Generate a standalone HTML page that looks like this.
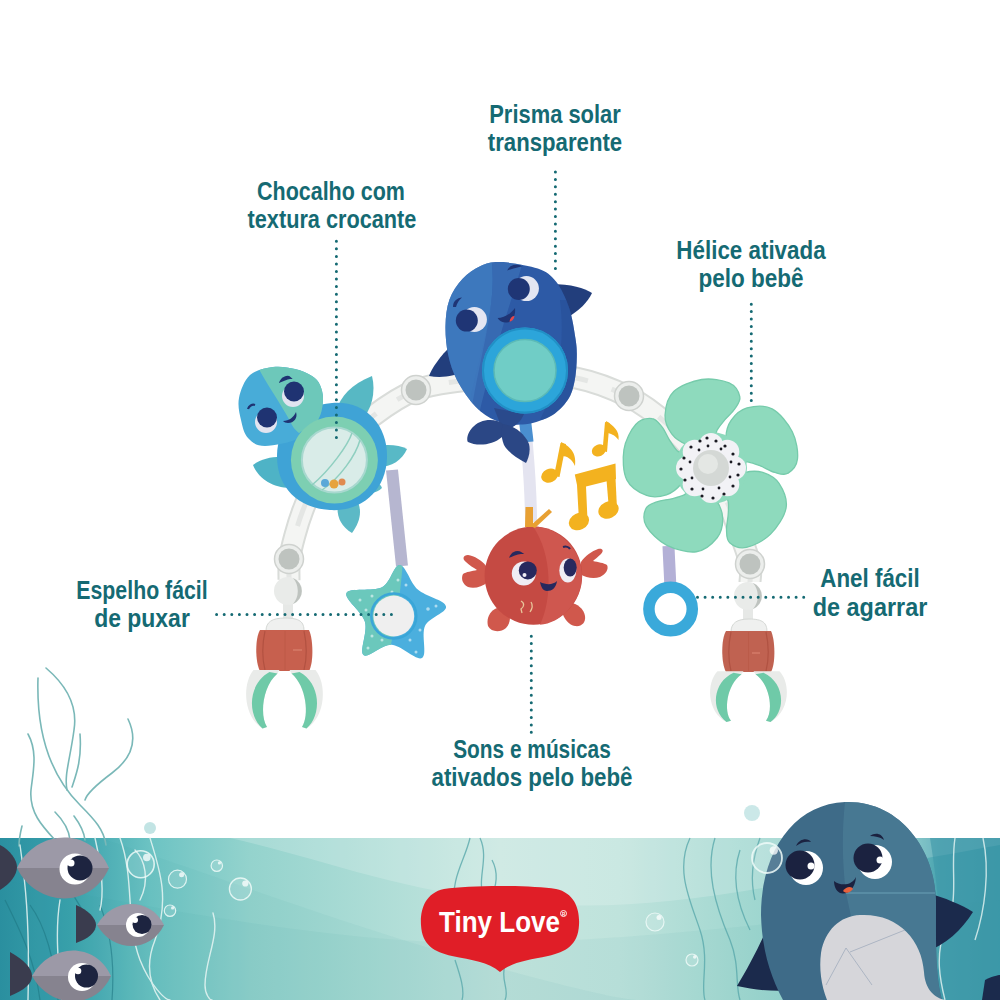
<!DOCTYPE html>
<html><head><meta charset="utf-8">
<style>
html,body{margin:0;padding:0;background:#fff;}
body{width:1000px;height:1000px;position:relative;overflow:hidden;font-family:"Liberation Sans",sans-serif;}
svg.bg{position:absolute;left:0;top:0;width:1000px;height:1000px;}
.ln{position:absolute;width:300px;text-align:center;white-space:nowrap;color:#156a73;font:bold 25px/28px "Liberation Sans",sans-serif;transform-origin:50% 50%;}
</style></head><body>
<svg class="bg" viewBox="0 0 1000 1000">
<defs>
<linearGradient id="band" x1="0" y1="0" x2="1" y2="0">
<stop offset="0" stop-color="#2a8fa1"/>
<stop offset="0.07" stop-color="#3aa2ae"/>
<stop offset="0.15" stop-color="#6cc3c3"/>
<stop offset="0.25" stop-color="#94d3cd"/>
<stop offset="0.5" stop-color="#c6e6df"/>
<stop offset="0.62" stop-color="#bfe3dc"/>
<stop offset="0.74" stop-color="#a3d8d1"/>
<stop offset="0.9" stop-color="#7fc9c6"/>
<stop offset="0.94" stop-color="#4aa3b0"/>
<stop offset="1" stop-color="#3a98a8"/>
</linearGradient>
</defs>
<rect x="0" y="838" width="1000" height="162" fill="url(#band)"/>
<!-- waves -->
<path d="M0 838H1000V1000H0Z" fill="none"/>
<path d="M230 838 C330 860 420 900 560 905 C680 910 800 880 1000 845 V838Z" fill="#ffffff" opacity="0.18"/>
<path d="M0 880 C120 900 260 930 400 940 C560 950 700 930 1000 900 V1000H0Z" fill="#2f9aa0" opacity="0.06"/>
<path d="M100 838 C200 870 330 920 470 960 C560 985 620 1000 640 1000 H0 V838Z" fill="#2d95a0" opacity="0.06"/>
<!-- seaweed above band (left) -->
<g fill="none" stroke="#7ab8b8" stroke-width="1.6" stroke-linecap="round">
<path d="M38 678 C36 740 55 780 80 805 C95 820 104 830 106 845"/>
<path d="M46 668 C66 685 78 705 74 730 C70 760 64 775 67 790"/>
<path d="M80 734 C82 760 76 775 72 787"/>
<path d="M128 719 C138 740 132 758 112 773 C96 785 87 793 85 800"/>
<path d="M28 734 C38 752 33 772 31 790 C29 812 42 826 55 840"/>
<path d="M55 812 C63 820 69 830 70 840"/>
<path d="M74 816 C80 824 84 832 85 840"/>
<path d="M22 826 C20 834 19 840 19 846"/>
</g>
<circle cx="150" cy="828" r="6" fill="#a8d8d8" opacity="0.7"/>
<circle cx="752" cy="813" r="8" fill="#a8d8d8" opacity="0.6"/>
<g fill="none" stroke="#1f7884" stroke-width="1.2" opacity="0.6">
<path d="M5 900 C20 930 35 960 40 1000"/>
<path d="M30 905 C45 925 55 960 58 1000"/>
<path d="M50 840 C60 880 80 905 95 930"/>
<path d="M100 905 C110 930 115 960 112 1000"/>
</g>
<!-- seaweed inside band white (left) -->
<g fill="none" stroke="#e8f6f4" stroke-width="1.4" stroke-linecap="round" opacity="0.85">
<path d="M20 845 C25 880 30 920 28 1000"/>
<path d="M60 900 C55 930 58 965 62 1000"/>
<path d="M120 838 C135 880 125 920 140 960 C150 985 165 1000 170 1000"/>
<path d="M150 838 C160 870 170 900 155 940 C145 965 150 985 160 1000"/>
<path d="M95 838 C100 860 105 890 100 910"/>
<path d="M213 913 C220 935 205 960 205 985 C205 995 210 1000 212 1000"/>
<path d="M135 850 C145 860 150 880 140 900"/>
</g>
<!-- bubbles -->
<g>
<circle cx="140.7" cy="864.2" r="13.5" fill="#ffffff" fill-opacity="0.13" stroke="#eefaf8" stroke-opacity="0.85" stroke-width="1.6"/>
<circle cx="146.8" cy="857.5" r="3.8" fill="#ffffff" fill-opacity="0.75"/>
<circle cx="177.5" cy="879.2" r="9" fill="#ffffff" fill-opacity="0.13" stroke="#eefaf8" stroke-opacity="0.85" stroke-width="1.2"/>
<circle cx="181.6" cy="874.7" r="2.5" fill="#ffffff" fill-opacity="0.75"/>
<circle cx="216.8" cy="865.7" r="5.7" fill="#ffffff" fill-opacity="0.13" stroke="#eefaf8" stroke-opacity="0.85" stroke-width="1.2"/>
<circle cx="219.4" cy="862.9" r="1.6" fill="#ffffff" fill-opacity="0.75"/>
<circle cx="240.4" cy="889" r="11" fill="#ffffff" fill-opacity="0.13" stroke="#eefaf8" stroke-opacity="0.85" stroke-width="1.3"/>
<circle cx="245.3" cy="883.5" r="3.1" fill="#ffffff" fill-opacity="0.75"/>
<circle cx="170" cy="910.7" r="5.7" fill="#ffffff" fill-opacity="0.13" stroke="#eefaf8" stroke-opacity="0.85" stroke-width="1.2"/>
<circle cx="172.6" cy="907.9" r="1.6" fill="#ffffff" fill-opacity="0.75"/>
<circle cx="655" cy="922" r="9" fill="#ffffff" fill-opacity="0.13" stroke="#eefaf8" stroke-opacity="0.85" stroke-width="1.2"/>
<circle cx="659.0" cy="917.5" r="2.5" fill="#ffffff" fill-opacity="0.75"/>
<circle cx="692" cy="960" r="6" fill="#ffffff" fill-opacity="0.13" stroke="#eefaf8" stroke-opacity="0.85" stroke-width="1.2"/>
<circle cx="694.7" cy="957.0" r="1.7" fill="#ffffff" fill-opacity="0.75"/>
</g>
<!-- teal seaweed lines near logo -->
<g fill="none" stroke="#5aa9ac" stroke-width="1.3" opacity="0.8">
<path d="M470 838 C465 860 450 880 455 905"/>
<path d="M480 838 C490 860 475 880 485 900"/>
<path d="M492 860 C500 875 495 890 490 900"/>
<path d="M455 960 C460 975 465 990 462 1000"/>
<path d="M505 965 C500 980 510 990 505 1000"/>
<path d="M690 838 C675 870 690 900 700 930 C710 960 700 985 705 1000"/>
<path d="M715 838 C705 870 715 905 730 940 C740 965 735 985 740 1000"/>
<path d="M740 850 C730 880 740 910 750 930"/>
<path d="M760 838 C752 860 750 880 755 900"/>
</g>
<!-- right dark teal area -->
<path d="M930 838 H1000 V1000 H930 C945 960 940 900 930 838Z" fill="#3d98a8" opacity="0.6"/>
<g fill="none" stroke="#e8f6f4" stroke-width="1.4" opacity="0.8">
<path d="M955 838 C950 870 960 900 945 930 C935 955 940 980 945 1000"/>
<path d="M983 838 C990 870 985 910 975 940"/>
</g>
<!-- fish -->
<g>
<path d="M0 845 C10 850 17 860 17 867 C17 875 10 884 0 890Z" fill="#3a3c4e"/>
<path d="M17 868 C35 830 90 825 109 868Z" fill="#9c99a7"/>
<path d="M17 868 C35 906 90 911 109 868Z" fill="#86838f"/>
<circle cx="75" cy="869" r="15.5" fill="#ffffff"/>
<circle cx="80" cy="868" r="12.5" fill="#1d2440"/>
<circle cx="71" cy="863" r="3.5" fill="#ffffff"/>

<path d="M76 905 C88 910 96 918 96 925 C96 932 88 939 76 943Z" fill="#3a3c4e"/>
<path d="M97 925 C112 898 150 896 164 925Z" fill="#9c99a7"/>
<path d="M97 925 C112 952 150 954 164 925Z" fill="#86838f"/>
<circle cx="138" cy="925" r="12" fill="#ffffff"/>
<circle cx="142" cy="924.5" r="9.5" fill="#1d2440"/>
<circle cx="135" cy="920" r="3" fill="#ffffff"/>

<path d="M10 952 C24 960 32 968 32 976 C32 984 24 990 10 996Z" fill="#3a3c4e"/>
<path d="M32 976 C50 943 95 941 111 976Z" fill="#9c99a7"/>
<path d="M32 976 C50 1009 95 1011 111 976Z" fill="#86838f"/>
<circle cx="82" cy="977" r="14" fill="#ffffff"/>
<circle cx="86.5" cy="976" r="11.5" fill="#1d2440"/>
<circle cx="78" cy="971" r="3.3" fill="#ffffff"/>
</g>
<!-- whale -->
<g>
<path d="M770 922 C760 945 748 968 737 986 C755 990 775 992 795 990Z" fill="#1b2a4c"/>
<path d="M928 893 C945 898 960 904 973 912 C962 930 945 945 926 952Z" fill="#1b2a4c"/>
<path d="M845 802 C900 800 935 850 936 900 C936 940 935 975 942 1000 H783 C770 975 762 950 761 915 C761 850 795 804 845 802Z" fill="#3e6b88"/>
<path d="M845 802 C900 800 935 850 936 900 C936 940 935 975 942 1000 H870 C860 960 852 920 846 893 C842 860 842 830 845 802Z" fill="#4a7c95" opacity="0.8"/>
<path d="M846 893 H935" stroke="#6aa0b5" stroke-width="1.2"/>
<path d="M860 915 C898 913 922 940 924 972 C925 990 935 998 945 1000 H827 C821 985 819 968 821 953 C825 930 840 916 860 915Z" fill="#d6d6da"/>
<path d="M826 985 L846 948 L872 985 M850 952 L905 930" stroke="#8a9ab0" stroke-width="0.8" fill="none" opacity="0.7"/>
<circle cx="806" cy="868" r="17" fill="#ffffff"/>
<circle cx="800" cy="865" r="14.5" fill="#1b2240"/>
<circle cx="811" cy="866" r="3.5" fill="#ffffff"/>
<circle cx="875" cy="862" r="17" fill="#ffffff"/>
<circle cx="868" cy="858" r="14.5" fill="#1b2240"/>
<circle cx="880" cy="860" r="3.5" fill="#ffffff"/>
<path d="M796 846 C800 838 808 838 811 842 C806 841 801 842 796 846Z" fill="#1b2240"/>
<path d="M870 836 C875 832 882 833 884 840 C880 837 875 836 870 836Z" fill="#1b2240"/>
<path d="M834 881 C840 886 852 886 856 877 C855 890 847 895 840 893 C836 891 834 886 834 881Z" fill="#1b2240"/>
<path d="M843 891 C846 886 852 886 853 889 C850 893 846 894 843 891Z" fill="#e8613c"/>
<path d="M985 980 C995 975 1000 975 1000 975 V1000 H982Z" fill="#1b2a4c"/>
</g>
<circle cx="767" cy="858" r="15" fill="#ffffff" fill-opacity="0.13" stroke="#eefaf8" stroke-opacity="0.85" stroke-width="1.8"/>
<circle cx="773.8" cy="850.5" r="4.2" fill="#ffffff" fill-opacity="0.75"/>
<!-- logo -->
<g>
<path d="M444 889 C470 885 530 885 556 889 C575 893 580 910 579 925 C578 945 566 952 548 956 C528 960 512 962 500 972 C488 962 472 960 452 956 C434 952 422 945 421 925 C420 910 425 893 444 889Z" fill="#e01e27"/>
<text x="439" y="932" font-family="Liberation Sans" font-weight="bold" font-size="30" fill="#ffffff" textLength="121" lengthAdjust="spacingAndGlyphs">Tiny Love</text>
<circle cx="563.5" cy="913.5" r="3" fill="none" stroke="#fff" stroke-width="0.9"/>
<text x="562" y="915.5" font-family="Liberation Sans" font-weight="bold" font-size="4.5" fill="#fff">R</text>
</g>
<!-- ARCH -->
<g fill="none" stroke-linecap="butt">
<path d="M289.0 580.0 C289.1 576.5 288.5 566.5 289.5 559.0 C290.5 551.5 292.8 543.2 295.0 535.0 C297.2 526.8 299.5 519.0 303.0 510.0 C306.5 501.0 310.3 491.0 316.0 481.0 C321.7 471.0 327.5 460.8 337.0 450.0 C346.5 439.2 359.8 426.0 373.0 416.0 C386.2 406.0 401.5 395.8 416.0 390.0 C430.5 384.2 442.7 383.5 460.0 381.0 C477.3 378.5 500.7 375.5 520.0 375.0 C539.3 374.5 557.8 374.3 576.0 378.0 C594.2 381.7 613.8 389.3 629.0 397.0 C644.2 404.7 655.2 413.5 667.0 424.0 C678.8 434.5 690.3 447.7 700.0 460.0 C709.7 472.3 718.3 485.7 725.0 498.0 C731.7 510.3 735.8 523.0 740.0 534.0 C744.2 545.0 748.3 556.0 750.0 564.0 C751.7 572.0 750.0 579.0 750.0 582.0" stroke="#d9dcd9" stroke-width="23"/>
<path d="M289.0 580.0 C289.1 576.5 288.5 566.5 289.5 559.0 C290.5 551.5 292.8 543.2 295.0 535.0 C297.2 526.8 299.5 519.0 303.0 510.0 C306.5 501.0 310.3 491.0 316.0 481.0 C321.7 471.0 327.5 460.8 337.0 450.0 C346.5 439.2 359.8 426.0 373.0 416.0 C386.2 406.0 401.5 395.8 416.0 390.0 C430.5 384.2 442.7 383.5 460.0 381.0 C477.3 378.5 500.7 375.5 520.0 375.0 C539.3 374.5 557.8 374.3 576.0 378.0 C594.2 381.7 613.8 389.3 629.0 397.0 C644.2 404.7 655.2 413.5 667.0 424.0 C678.8 434.5 690.3 447.7 700.0 460.0 C709.7 472.3 718.3 485.7 725.0 498.0 C731.7 510.3 735.8 523.0 740.0 534.0 C744.2 545.0 748.3 556.0 750.0 564.0 C751.7 572.0 750.0 579.0 750.0 582.0" stroke="#f4f5f3" stroke-width="19"/>
<path d="M289.0 580.0 C289.1 576.5 288.5 566.5 289.5 559.0 C290.5 551.5 292.8 543.2 295.0 535.0 C297.2 526.8 299.5 519.0 303.0 510.0 C306.5 501.0 310.3 491.0 316.0 481.0 C321.7 471.0 327.5 460.8 337.0 450.0 C346.5 439.2 359.8 426.0 373.0 416.0 C386.2 406.0 401.5 395.8 416.0 390.0 C430.5 384.2 442.7 383.5 460.0 381.0 C477.3 378.5 500.7 375.5 520.0 375.0 C539.3 374.5 557.8 374.3 576.0 378.0 C594.2 381.7 613.8 389.3 629.0 397.0 C644.2 404.7 655.2 413.5 667.0 424.0 C678.8 434.5 690.3 447.7 700.0 460.0 C709.7 472.3 718.3 485.7 725.0 498.0 C731.7 510.3 735.8 523.0 740.0 534.0 C744.2 545.0 748.3 556.0 750.0 564.0 C751.7 572.0 750.0 579.0 750.0 582.0" stroke="#e4e6e4" stroke-width="5" stroke-dasharray="30 25"/>
</g>
<!-- knobs -->
<g>
<circle cx="289" cy="559" r="14.5" fill="#eceeec" stroke="#cfd2cf" stroke-width="1.5"/>
<circle cx="289" cy="559" r="10.5" fill="#bec3bf"/>
<circle cx="416" cy="390" r="14.5" fill="#eceeec" stroke="#cfd2cf" stroke-width="1.5"/>
<circle cx="416" cy="390" r="10.5" fill="#bec3bf"/>
<circle cx="629" cy="396" r="14.5" fill="#eceeec" stroke="#cfd2cf" stroke-width="1.5"/>
<circle cx="629" cy="396" r="10.5" fill="#bec3bf"/>
<circle cx="750" cy="564" r="14.5" fill="#eceeec" stroke="#cfd2cf" stroke-width="1.5"/>
<circle cx="750" cy="564" r="10.5" fill="#bec3bf"/>
</g>
<!-- LEFT CLIP -->
<g>
<rect x="283" y="598" width="10" height="22" fill="#e6e8e6"/>
<circle cx="288" cy="591" r="14" fill="#e9ebe9"/>
<path d="M293 578 A14 14 0 0 1 293 604 A20 20 0 0 0 293 578Z" fill="#bec3bf"/>
<path d="M266 631 C266 622 272 618 285 618 C300 618 304 622 304 631Z" fill="#eff0ef" stroke="#d5d8d5" stroke-width="1"/>
<path d="M260 630 H309 C313 638 314 662 309 671 H260 C255 662 255 638 260 630Z" fill="#c7604e"/>
<path d="M265 631 C262 645 262 658 265 670 M304 631 C307 645 307 658 304 670" stroke="#a94c3c" stroke-width="1.2" fill="none" opacity="0.7"/>
<path d="M285 631 V670" stroke="#b65543" stroke-width="0.8" opacity="0.6"/>
<path d="M293 650 H302" stroke="#e08a78" stroke-width="1.2" opacity="0.8"/>
<g transform="translate(284.5 671)">
<path d="M-31 -1 C-42 12 -42 45 -22 57.5 L-17.5 56 C-25 45 -22 15 -7 2.5 L-5 -1Z" fill="#e9ebe9"/>
<path d="M-15 1 C-36 12 -38 44 -22 57.5 L-17.5 56 C-25 45 -22 15 -7 2.5Z" fill="#6fcaa8"/>
<g transform="scale(-1 1)">
<path d="M-31 -1 C-42 12 -42 45 -22 57.5 L-17.5 56 C-25 45 -22 15 -7 2.5 L-5 -1Z" fill="#e9ebe9"/>
<path d="M-15 1 C-36 12 -38 44 -22 57.5 L-17.5 56 C-25 45 -22 15 -7 2.5Z" fill="#6fcaa8"/>
</g></g>
</g>
<!-- RIGHT CLIP -->
<g>
<rect x="743" y="603" width="10" height="18" fill="#e6e8e6"/>
<circle cx="748" cy="596" r="14" fill="#e9ebe9"/>
<path d="M753 583 A14 14 0 0 1 753 609 A20 20 0 0 0 753 583Z" fill="#bec3bf"/>
<path d="M731 632 C731 623 737 619 749 619 C763 619 767 623 767 632Z" fill="#eff0ef" stroke="#d5d8d5" stroke-width="1"/>
<path d="M726 631 H771 C775 639 776 663 771 672 H726 C721 663 721 639 726 631Z" fill="#c06251"/>
<path d="M731 632 C728 646 728 659 731 671 M766 632 C769 646 769 659 766 671" stroke="#a94c3c" stroke-width="1.2" fill="none" opacity="0.7"/>
<path d="M748.5 632 V671" stroke="#b65543" stroke-width="0.8" opacity="0.6"/>
<path d="M752 653 H760" stroke="#e08a78" stroke-width="1.2" opacity="0.8"/>
<g transform="translate(748.5 672) scale(1 0.87)">
<path d="M-31 -1 C-42 12 -42 45 -22 57.5 L-17.5 56 C-25 45 -22 15 -7 2.5 L-5 -1Z" fill="#e9ebe9"/>
<path d="M-15 1 C-36 12 -38 44 -22 57.5 L-17.5 56 C-25 45 -22 15 -7 2.5Z" fill="#6fcaa8"/>
<g transform="scale(-1 1)">
<path d="M-31 -1 C-42 12 -42 45 -22 57.5 L-17.5 56 C-25 45 -22 15 -7 2.5 L-5 -1Z" fill="#e9ebe9"/>
<path d="M-15 1 C-36 12 -38 44 -22 57.5 L-17.5 56 C-25 45 -22 15 -7 2.5Z" fill="#6fcaa8"/>
</g></g>
</g>
<!-- STRAPS -->
<path d="M392 470 C395 500 398 530 402 566" stroke="#b6b6d0" stroke-width="12" fill="none"/>
<path d="M525 420 C527 450 531 480 531 522" stroke="#e4e4f0" stroke-width="12" fill="none"/>
<path d="M525 420 C526 430 527 436 527.5 442" stroke="#4a8fd0" stroke-width="12" fill="none"/>
<path d="M668.5 546 C669 560 670 575 670.5 590" stroke="#b3b0d6" stroke-width="12" fill="none"/>
<!-- BLUE RING -->
<circle cx="670.6" cy="609" r="21.7" fill="none" stroke="#3aa9da" stroke-width="11.5"/>
<!-- TURTLE -->
<g>
<path d="M336 412 C340 396 352 384 372 376 C376 392 372 410 360 422Z" fill="#57b8c4"/>
<path d="M376 446 C388 444 400 445 407 449 C402 460 392 467 378 467Z" fill="#58b9c6"/>
<path d="M292 458 C278 455 262 458 253 465 C258 478 272 488 290 488Z" fill="#4eb3c6"/>
<path d="M338 503 C336 515 340 526 352 533 C360 522 362 512 358 502Z" fill="#5cb9c6"/>
<path d="M366 482 C372 480 380 482 382 488 C378 492 372 494 366 492Z" fill="#5cb9c6"/>
<path d="M332 403 C365 400 388 425 387 458 C386 490 362 512 330 510 C298 508 277 488 277 456 C277 424 300 406 332 403Z" fill="#3fa3d6"/>
<defs><clipPath id="th"><path d="M250.0 375.0 C255.7 369.8 265.5 368.0 273.0 367.0 C280.5 366.0 288.5 367.5 295.0 369.0 C301.5 370.5 307.8 373.3 312.0 376.0 C316.2 378.7 318.2 381.0 320.0 385.0 C321.8 389.0 323.3 394.2 323.0 400.0 C322.7 405.8 321.8 413.7 318.0 420.0 C314.2 426.3 308.8 433.7 300.0 438.0 C291.2 442.3 273.7 446.0 265.0 446.0 C256.3 446.0 252.0 442.3 248.0 438.0 C244.0 433.7 242.5 426.7 241.0 420.0 C239.5 413.3 237.5 405.5 239.0 398.0 C240.5 390.5 244.3 380.2 250.0 375.0Z"/></clipPath></defs>
<path d="M250.0 375.0 C255.7 369.8 265.5 368.0 273.0 367.0 C280.5 366.0 288.5 367.5 295.0 369.0 C301.5 370.5 307.8 373.3 312.0 376.0 C316.2 378.7 318.2 381.0 320.0 385.0 C321.8 389.0 323.3 394.2 323.0 400.0 C322.7 405.8 321.8 413.7 318.0 420.0 C314.2 426.3 308.8 433.7 300.0 438.0 C291.2 442.3 273.7 446.0 265.0 446.0 C256.3 446.0 252.0 442.3 248.0 438.0 C244.0 433.7 242.5 426.7 241.0 420.0 C239.5 413.3 237.5 405.5 239.0 398.0 C240.5 390.5 244.3 380.2 250.0 375.0Z" fill="#48acd8"/>
<g clip-path="url(#th)">
<path d="M255 362 L330 362 L330 430 C320 440 300 440 292 425 C285 410 270 390 255 362Z" fill="#6dc8ba"/>
<path d="M300 432 L330 420 L330 450 L290 450Z" fill="#4aaed6"/>
</g>
<circle cx="293" cy="396" r="11" fill="#e2e4f0"/>
<circle cx="294" cy="391.5" r="10" fill="#1f3372"/>
<circle cx="266" cy="422" r="11" fill="#e2e4f0"/>
<circle cx="267" cy="417.5" r="10" fill="#1f3372"/>
<path d="M281 381 C283 377 288 376 290 378 C287 378 284 380 281 381Z" stroke="#1f3372" stroke-width="2.2" fill="none"/>
<path d="M248 409 C249 406 252 404 255 405" stroke="#1f3372" stroke-width="2.2" fill="none"/>
<path d="M283 421 C289 421 294 417 296 412 C298 418 294 423 288 423 C286 423 284 422 283 421Z" fill="#1f3372"/>
<circle cx="334.4" cy="460" r="43.5" fill="#7dcfb2"/>
<circle cx="334.4" cy="460" r="32.5" fill="#d9ece8"/>
<circle cx="334.4" cy="460" r="32.5" fill="none" stroke="#a8d8cf" stroke-width="2"/>
<path d="M312 485 C330 470 348 445 352 433 M322 490 C340 478 356 455 360 440" stroke="#8fcfc0" stroke-width="1.5" fill="none"/>
<circle cx="325" cy="483" r="4" fill="#5aa8d8"/>
<circle cx="334" cy="484" r="4.5" fill="#e6a33e"/>
<circle cx="342" cy="482" r="3.5" fill="#e08a50"/>
</g>
<!-- WHALE TOY -->
<g>
<path d="M452 345 C440 356 432 368 429 376 C440 378 455 377 466 370Z" fill="#223e7c"/>
<path d="M550 284 C572 284 584 288 592 293 C588 302 580 310 564 320Z" fill="#223e7c"/>
<defs><clipPath id="wb"><path d="M501.4 262.1 C510.9 262.5 528.7 265.4 537.8 268.6 C546.9 271.9 550.8 275.1 556.0 281.6 C561.2 288.1 565.8 298.1 569.0 307.6 C572.3 317.1 574.2 330.6 575.5 338.8 C576.8 347.0 576.9 350.1 576.8 357.0 C576.7 363.9 576.2 373.3 574.7 380.4 C573.2 387.6 571.9 393.8 567.7 399.9 C563.5 406.0 557.1 412.7 549.5 416.8 C541.9 420.9 531.1 424.0 522.2 424.6 C513.3 425.3 504.0 423.7 496.2 420.7 C488.4 417.7 481.9 413.1 475.4 406.4 C468.9 399.7 461.8 389.1 457.2 380.4 C452.7 371.7 450.1 363.5 448.1 354.4 C446.2 345.3 445.3 334.9 445.5 325.8 C445.7 316.7 446.6 307.6 449.4 299.8 C452.2 292.0 457.2 284.6 462.4 279.0 C467.6 273.4 474.1 268.8 480.6 266.0 C487.1 263.2 491.9 261.7 501.4 262.1Z"/></clipPath></defs>
<path d="M501.4 262.1 C510.9 262.5 528.7 265.4 537.8 268.6 C546.9 271.9 550.8 275.1 556.0 281.6 C561.2 288.1 565.8 298.1 569.0 307.6 C572.3 317.1 574.2 330.6 575.5 338.8 C576.8 347.0 576.9 350.1 576.8 357.0 C576.7 363.9 576.2 373.3 574.7 380.4 C573.2 387.6 571.9 393.8 567.7 399.9 C563.5 406.0 557.1 412.7 549.5 416.8 C541.9 420.9 531.1 424.0 522.2 424.6 C513.3 425.3 504.0 423.7 496.2 420.7 C488.4 417.7 481.9 413.1 475.4 406.4 C468.9 399.7 461.8 389.1 457.2 380.4 C452.7 371.7 450.1 363.5 448.1 354.4 C446.2 345.3 445.3 334.9 445.5 325.8 C445.7 316.7 446.6 307.6 449.4 299.8 C452.2 292.0 457.2 284.6 462.4 279.0 C467.6 273.4 474.1 268.8 480.6 266.0 C487.1 263.2 491.9 261.7 501.4 262.1Z" fill="#2d5aa6"/>
<g clip-path="url(#wb)">
<path d="M440 250 L490 250 C500 300 480 350 470 420 L440 420Z" fill="#4585c8" opacity="0.7"/>
<path d="M490 250 L525 255 C515 290 500 330 480 410 L468 410 C480 350 500 300 490 250Z" fill="#3d74bb" opacity="0.6"/>
<path d="M560 300 L590 300 L590 420 L540 420 C560 380 565 340 560 300Z" fill="#254c93" opacity="0.5"/>
</g>
<path d="M494 408 L524 414 C520 424 511 429 503 431Z" fill="#2a4a8c"/>
<path d="M503 424 C496 418 480 418 472 428 C466 435 467 441 468 442 C476 446 492 446 502 437Z" fill="#2b4785"/>
<path d="M503 424 C512 425 524 432 529 444 C531 452 528 459 526 463 C516 458 508 452 504 445 C501 438 501 430 503 424Z" fill="#2b4785"/>
<circle cx="474.4" cy="319.5" r="12.5" fill="#e4e6f2"/>
<circle cx="466.8" cy="320.6" r="11" fill="#1f3575"/>
<circle cx="526.4" cy="288.6" r="12.5" fill="#e4e6f2"/>
<circle cx="518.8" cy="289" r="11" fill="#1f3575"/>
<path d="M453 307 C453 301 457 298 462 297.5 C459 300 457 303 456 307Z" fill="#1f3575"/>
<path d="M509 269 C511 266 516 264.5 520 266 C516 267 512 268 509 269Z" fill="#1f3575" stroke="#1f3575" stroke-width="1.5"/>
<path d="M497.6 318 C503 318 510 315 515 308 C516 316 512 322 507 322.5 C503 323 499 321 497.6 318Z" fill="#1f3575"/>
<path d="M509.5 321.5 C510 318 512 316 514.5 316 C514 319 512 321.5 509.5 321.5Z" fill="#e8474a"/>
<circle cx="525" cy="370.5" r="43" fill="#2ca5da"/>
<circle cx="525" cy="370.5" r="42" fill="none" stroke="#2190c6" stroke-width="2"/>
<circle cx="525" cy="370.5" r="31" fill="#70cdc6"/>
<circle cx="525" cy="370.5" r="31" fill="none" stroke="#5cbab6" stroke-width="1.5"/>
</g>
<!-- FLOWER -->
<g transform="translate(711 468)">
<g fill="#8edabd" stroke="#76cbab" stroke-width="1.3">
<path d="M-5.0 -23.5 C-9.5 -23.6 -16.8 -23.6 -21.9 -26.0 C-26.9 -28.5 -32.4 -32.8 -35.5 -38.0 C-38.5 -43.2 -41.2 -50.4 -40.2 -57.3 C-39.1 -64.3 -35.8 -74.6 -29.1 -79.9 C-22.4 -85.2 -9.3 -88.5 0.0 -89.0 C9.3 -89.5 20.9 -86.2 26.9 -82.7 C32.9 -79.2 35.6 -72.4 36.1 -68.0 C36.7 -63.6 32.9 -60.1 30.0 -56.5 C27.1 -52.9 22.1 -49.7 18.7 -46.4 C15.4 -43.1 12.1 -40.2 9.8 -36.7 C7.6 -33.2 7.9 -27.6 5.4 -25.4 C2.9 -23.2 -0.4 -23.4 -5.0 -23.5Z" transform="rotate(-6)"/>
<path d="M-5.0 -23.5 C-9.5 -23.6 -16.8 -23.6 -21.9 -26.0 C-26.9 -28.5 -32.4 -32.8 -35.5 -38.0 C-38.5 -43.2 -41.2 -50.4 -40.2 -57.3 C-39.1 -64.3 -35.8 -74.6 -29.1 -79.9 C-22.4 -85.2 -9.3 -88.5 0.0 -89.0 C9.3 -89.5 20.9 -86.2 26.9 -82.7 C32.9 -79.2 35.6 -72.4 36.1 -68.0 C36.7 -63.6 32.9 -60.1 30.0 -56.5 C27.1 -52.9 22.1 -49.7 18.7 -46.4 C15.4 -43.1 12.1 -40.2 9.8 -36.7 C7.6 -33.2 7.9 -27.6 5.4 -25.4 C2.9 -23.2 -0.4 -23.4 -5.0 -23.5Z" transform="rotate(66)"/>
<path d="M-5.0 -23.5 C-9.5 -23.6 -16.8 -23.6 -21.9 -26.0 C-26.9 -28.5 -32.4 -32.8 -35.5 -38.0 C-38.5 -43.2 -41.2 -50.4 -40.2 -57.3 C-39.1 -64.3 -35.8 -74.6 -29.1 -79.9 C-22.4 -85.2 -9.3 -88.5 0.0 -89.0 C9.3 -89.5 20.9 -86.2 26.9 -82.7 C32.9 -79.2 35.6 -72.4 36.1 -68.0 C36.7 -63.6 32.9 -60.1 30.0 -56.5 C27.1 -52.9 22.1 -49.7 18.7 -46.4 C15.4 -43.1 12.1 -40.2 9.8 -36.7 C7.6 -33.2 7.9 -27.6 5.4 -25.4 C2.9 -23.2 -0.4 -23.4 -5.0 -23.5Z" transform="rotate(138)"/>
<path d="M-5.0 -23.5 C-9.5 -23.6 -16.8 -23.6 -21.9 -26.0 C-26.9 -28.5 -32.4 -32.8 -35.5 -38.0 C-38.5 -43.2 -41.2 -50.4 -40.2 -57.3 C-39.1 -64.3 -35.8 -74.6 -29.1 -79.9 C-22.4 -85.2 -9.3 -88.5 0.0 -89.0 C9.3 -89.5 20.9 -86.2 26.9 -82.7 C32.9 -79.2 35.6 -72.4 36.1 -68.0 C36.7 -63.6 32.9 -60.1 30.0 -56.5 C27.1 -52.9 22.1 -49.7 18.7 -46.4 C15.4 -43.1 12.1 -40.2 9.8 -36.7 C7.6 -33.2 7.9 -27.6 5.4 -25.4 C2.9 -23.2 -0.4 -23.4 -5.0 -23.5Z" transform="rotate(210)"/>
<path d="M-5.0 -23.5 C-9.5 -23.6 -16.8 -23.6 -21.9 -26.0 C-26.9 -28.5 -32.4 -32.8 -35.5 -38.0 C-38.5 -43.2 -41.2 -50.4 -40.2 -57.3 C-39.1 -64.3 -35.8 -74.6 -29.1 -79.9 C-22.4 -85.2 -9.3 -88.5 0.0 -89.0 C9.3 -89.5 20.9 -86.2 26.9 -82.7 C32.9 -79.2 35.6 -72.4 36.1 -68.0 C36.7 -63.6 32.9 -60.1 30.0 -56.5 C27.1 -52.9 22.1 -49.7 18.7 -46.4 C15.4 -43.1 12.1 -40.2 9.8 -36.7 C7.6 -33.2 7.9 -27.6 5.4 -25.4 C2.9 -23.2 -0.4 -23.4 -5.0 -23.5Z" transform="rotate(282)"/>
<circle r="36" stroke="none"/>
</g>
<g fill="#f2f2f6">
<circle cx="0" cy="-23" r="12"/><circle cx="16.3" cy="-16.3" r="12"/><circle cx="23" cy="0" r="12"/><circle cx="16.3" cy="16.3" r="12"/>
<circle cx="0" cy="23" r="12"/><circle cx="-16.3" cy="16.3" r="12"/><circle cx="-23" cy="0" r="12"/><circle cx="-16.3" cy="-16.3" r="12"/>
<circle cx="0" cy="0" r="26"/>
</g>
<g fill="#1a1a22">
<circle cx="-4" cy="-30" r="1.6"/><circle cx="5" cy="-27" r="1.6"/><circle cx="14" cy="-22" r="1.6"/><circle cx="22" cy="-14" r="1.6"/><circle cx="28" cy="-4" r="1.6"/><circle cx="27" cy="7" r="1.6"/><circle cx="22" cy="18" r="1.6"/><circle cx="13" cy="26" r="1.6"/><circle cx="2" cy="30" r="1.6"/><circle cx="-9" cy="28" r="1.6"/><circle cx="-19" cy="21" r="1.6"/><circle cx="-26" cy="12" r="1.6"/><circle cx="-30" cy="1" r="1.6"/><circle cx="-27" cy="-10" r="1.6"/><circle cx="-20" cy="-21" r="1.6"/><circle cx="-11" cy="-27" r="1.6"/>
<circle cx="-3" cy="-22" r="1.4"/><circle cx="10" cy="-19" r="1.4"/><circle cx="20" cy="-6" r="1.4"/><circle cx="19" cy="9" r="1.4"/><circle cx="8" cy="20" r="1.4"/><circle cx="-8" cy="21" r="1.4"/><circle cx="-19" cy="10" r="1.4"/><circle cx="-21" cy="-6" r="1.4"/><circle cx="-12" cy="-18" r="1.4"/>
</g>
<circle cx="0" cy="0" r="18" fill="#d4d8d5"/>
<circle cx="-3" cy="-4" r="10" fill="#e4e7e4"/>
</g>
<!-- STAR -->
<g>
<defs><clipPath id="st"><path d="M399.8 565.0 C405.8 565.4 410.1 582.7 417.8 589.6 C425.5 596.5 444.8 600.3 446.0 606.4 C447.2 612.5 429.0 617.4 425.0 626.0 C421.0 634.6 427.6 654.9 422.0 658.0 C416.4 661.1 401.1 645.3 391.4 644.8 C381.6 644.3 367.9 658.8 363.5 655.0 C359.1 651.2 367.8 632.3 365.0 622.0 C362.2 611.7 343.7 598.8 346.5 593.0 C349.3 587.2 373.1 591.9 382.0 587.2 C390.9 582.5 393.8 564.6 399.8 565.0Z"/></clipPath></defs>
<path d="M399.8 565.0 C405.8 565.4 410.1 582.7 417.8 589.6 C425.5 596.5 444.8 600.3 446.0 606.4 C447.2 612.5 429.0 617.4 425.0 626.0 C421.0 634.6 427.6 654.9 422.0 658.0 C416.4 661.1 401.1 645.3 391.4 644.8 C381.6 644.3 367.9 658.8 363.5 655.0 C359.1 651.2 367.8 632.3 365.0 622.0 C362.2 611.7 343.7 598.8 346.5 593.0 C349.3 587.2 373.1 591.9 382.0 587.2 C390.9 582.5 393.8 564.6 399.8 565.0Z" fill="#4cb0de"/>
<g clip-path="url(#st)">
<path d="M340 560 L403 560 C400 600 395 630 385 670 L340 670Z" fill="#6cc8bc"/>
<g fill="#ffffff" opacity="0.55">
<circle cx="398" cy="580" r="1.5"/><circle cx="392" cy="592" r="1.5"/><circle cx="372" cy="596" r="1.5"/><circle cx="360" cy="600" r="1.5"/><circle cx="366" cy="610" r="1.5"/><circle cx="372" cy="636" r="1.5"/><circle cx="368" cy="648" r="1.5"/><circle cx="382" cy="640" r="1.5"/>
<circle cx="428" cy="609" r="1.8"/><circle cx="436" cy="606" r="1.5"/><circle cx="410" cy="640" r="1.5"/><circle cx="416" cy="652" r="1.5"/><circle cx="420" cy="630" r="1.5"/><circle cx="406" cy="585" r="1.5"/>
</g>
</g>
<circle cx="393.8" cy="616" r="22.5" fill="none" stroke="#3aa6d8" stroke-width="2.5"/>
<circle cx="393.8" cy="616" r="20.4" fill="#efefef"/>
</g>
<!-- CRAB -->
<g>
<path d="M486 566 C482 560 474 556 468 555 C463 555 462 559 466 562 C469 565 474 568 477 570 C472 571 466 572 463 574 C461 578 462 584 468 587 C474 589 482 587 488 582Z" fill="#d0584c"/>
<path d="M581 562 C585 556 592 551 598 549 C603 548 604 551 601 554 C598 557 595 559 593 561 C598 562 604 563 607 565 C609 569 606 574 600 577 C594 579 586 578 580 574Z" fill="#d0584c"/>
<path d="M497 608 C490 611 486 618 488 626 C491 632 500 633 506 628 C510 624 511 617 509 612Z" fill="#d0584c"/>
<path d="M570 603 C577 603 584 609 585 616 C586 623 581 627 575 626 C569 625 564 619 562 612Z" fill="#d0584c"/>
<ellipse cx="533.4" cy="575.6" rx="48.8" ry="49.2" fill="#c54a43"/>
<path d="M533 526.4 C560 527 582 550 582 575.6 C582 602 560 624 540 624.8 C552 600 553 555 533 526.4Z" fill="#cf574f"/>
<path d="M525 527 L525.5 507 L533 507 L533 527Z" fill="#e8a032"/>
<path d="M530 526 L549 509 L552 512 L535 528Z" fill="#e8a032"/>
<circle cx="523.8" cy="573.6" r="12" fill="#efedf4"/>
<circle cx="527.8" cy="570.4" r="9" fill="#27295e"/>
<circle cx="524.5" cy="575" r="2" fill="#efedf4"/>
<ellipse cx="567.8" cy="570.4" rx="8.5" ry="12" fill="#efedf4"/>
<ellipse cx="570.2" cy="567.6" rx="6.5" ry="9" fill="#27295e"/>
<path d="M511 556 C513 552 518 551 521 553 C517 553 514 555 511 556Z" stroke="#27295e" stroke-width="2" fill="none"/>
<path d="M563 547 C566 546 569 547 570 549" stroke="#27295e" stroke-width="2" fill="none"/>
<path d="M540 582 C546 585 553 585 557 581 C556 588 552 591 547 591 C543 591 541 587 540 582Z" fill="#27295e"/>
<path d="M521 601 C525 603 524 607 521 609 L522 613 M531 602 C533 605 532 609 530 612" stroke="#e8c59a" stroke-width="1.3" fill="none"/>
</g>
<!-- NOTES -->
<g fill="#f3b21f">
<ellipse cx="549.6" cy="475.6" rx="8.6" ry="6.8" transform="rotate(-25 549.6 475.6)"/>
<path d="M554 476 L560.5 443 L566 444 L559.5 477Z"/>
<path d="M561 442 C569 446 577 452 575 466 C572 459 567 456 562 456Z"/>
<ellipse cx="598.8" cy="450.4" rx="7.2" ry="5.8" transform="rotate(-25 598.8 450.4)"/>
<path d="M602.5 451 L605 422 L609.5 423 L607 452Z"/>
<path d="M606 421 C613 425 620 431 618.5 440 C615 435 610 433 607 433Z"/>
<ellipse cx="579" cy="521.5" rx="10.5" ry="8.3" transform="rotate(-25 579 521.5)"/>
<ellipse cx="608.5" cy="510" rx="10.5" ry="8.3" transform="rotate(-25 608.5 510)"/>
<path d="M574.8 474.4 L615.5 463.6 L616 479 L586 486.5 L587.5 520 L579 521 L577 485Z"/>
<path d="M606.5 480 L615.5 478 L617 509 L609 510Z"/>
</g>
<g stroke="#156a73" stroke-width="3" stroke-linecap="round" fill="none">
<path d="M555.4 172V268.9" stroke-dasharray="0 7.415"/>
<path d="M336.4 241.3V438" stroke-dasharray="0 7.55"/>
<path d="M751.3 304.2V401" stroke-dasharray="0 7.415"/>
<path d="M216.6 614.6H391.8" stroke-dasharray="0 7.6"/>
<path d="M697.5 597.2H804.1" stroke-dasharray="0 7.586"/>
<path d="M531.3 636.2V732.7" stroke-dasharray="0 7.39"/>
</g>
</svg>
<div class="ln" style="left:405.2px;top:100.0px;transform:scaleX(0.876)">Prisma solar</div>
<div class="ln" style="left:404.5px;top:128.1px;transform:scaleX(0.887)">transparente</div>
<div class="ln" style="left:180.9px;top:176.5px;transform:scaleX(0.858)">Chocalho com</div>
<div class="ln" style="left:181.8px;top:205.3px;transform:scaleX(0.868)">textura crocante</div>
<div class="ln" style="left:600.9px;top:236.1px;transform:scaleX(0.895)">Hélice ativada</div>
<div class="ln" style="left:600.9px;top:264.3px;transform:scaleX(0.900)">pelo bebê</div>
<div class="ln" style="left:-7.7px;top:575.6px;transform:scaleX(0.852)">Espelho fácil</div>
<div class="ln" style="left:-7.7px;top:604.3px;transform:scaleX(0.918)">de puxar</div>
<div class="ln" style="left:719.9px;top:564.2px;transform:scaleX(0.895)">Anel fácil</div>
<div class="ln" style="left:720.1px;top:592.5px;transform:scaleX(0.937)">de agarrar</div>
<div class="ln" style="left:381.6px;top:734.5px;transform:scaleX(0.834)">Sons e músicas</div>
<div class="ln" style="left:381.6px;top:762.6px;transform:scaleX(0.893)">ativados pelo bebê</div>
</body></html>
